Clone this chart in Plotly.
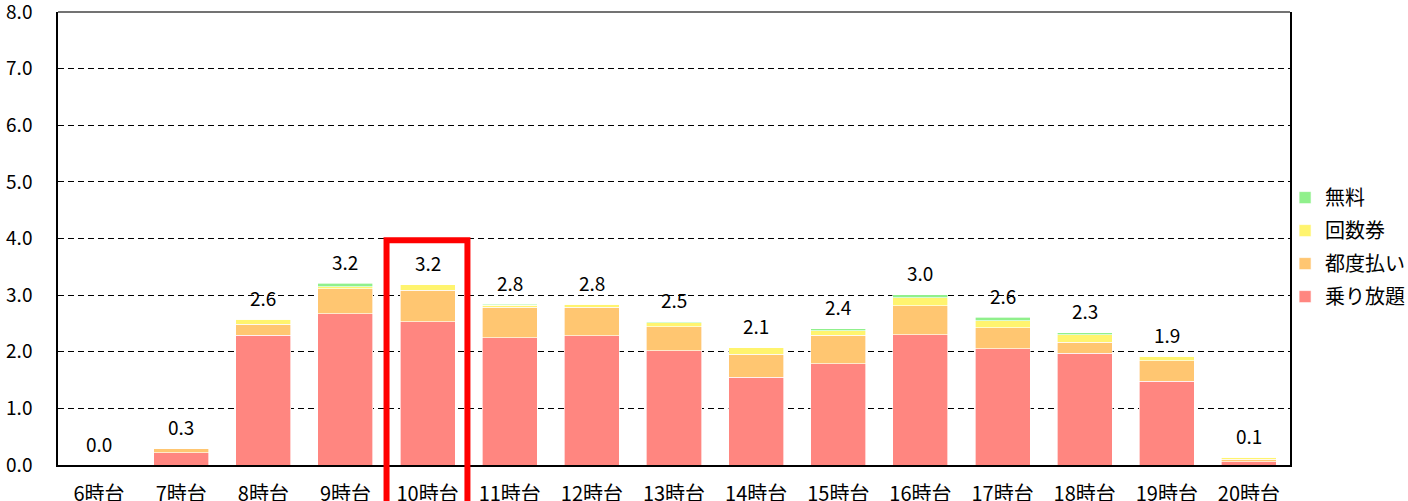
import plotly.graph_objects as go

categories = ["6時台", "7時台", "8時台", "9時台", "10時台", "11時台", "12時台", "13時台",
              "14時台", "15時台", "16時台", "17時台", "18時台", "19時台", "20時台"]
norihoudai = [0.00, 0.22, 2.29, 2.67, 2.53, 2.25, 2.28, 2.02, 1.55, 1.79, 2.30, 2.05, 1.97, 1.48, 0.06]
tsudobarai = [0.00, 0.08, 0.20, 0.44, 0.56, 0.54, 0.51, 0.42, 0.41, 0.50, 0.51, 0.37, 0.20, 0.36, 0.04]
kaisuuken  = [0.00, 0.00, 0.08, 0.04, 0.09, 0.03, 0.05, 0.07, 0.11, 0.08, 0.14, 0.13, 0.13, 0.08, 0.04]
muryou     = [0.00, 0.00, 0.00, 0.06, 0.00, 0.02, 0.00, 0.02, 0.00, 0.04, 0.06, 0.06, 0.04, 0.00, 0.00]
y_ticks = [0, 1, 2, 3, 4, 5, 6, 7, 8]
highlight = "10時台"

FONT = "Noto Sans CJK JP"
series = [
    ("乗り放題", norihoudai, "#FF8680", 4),
    ("都度払い", tsudobarai, "#FFC671", 3),
    ("回数券", kaisuuken, "#FFF46E", 2),
    ("無料", muryou, "#90F08C", 1),
]

fig = go.Figure()
for name, vals, col, rank in series:
    fig.add_trace(go.Bar(
        x=categories, y=vals, name=name,
        marker=dict(color=col, line=dict(color="rgba(255,255,255,0.8)", width=0.8)),
        legendgroup=name, legendrank=rank,
    ))

totals = [round(a + b + c + d, 3) for a, b, c, d in zip(norihoudai, tsudobarai, kaisuuken, muryou)]
for cat, t in zip(categories, totals):
    fig.add_annotation(x=cat, y=t, text=f"{t:.1f}", showarrow=False, yshift=22,
                       yanchor="middle", font=dict(family=FONT, size=19, color="#000"))

n = len(categories)
idx = categories.index(highlight)
fig.add_shape(type="rect", xref="x domain", yref="paper",
              x0=(idx + 0.5 - 0.50) / n, x1=(idx + 0.5 + 0.485) / n,
              y0=-0.2, y1=3.97 / 8,
              line=dict(color="#FF0000", width=6), fillcolor="rgba(0,0,0,0)", layer="above")
fig.add_shape(type="line", xref="paper", yref="paper", x0=0, x1=1, y0=1, y1=1,
              line=dict(color="#444", width=1.5), layer="below")

fig.update_layout(
    width=1408, height=501,
    margin=dict(l=58, r=118, t=12, b=36, autoexpand=False),
    paper_bgcolor="white", plot_bgcolor="white",
    barmode="stack", bargap=0.33,
    font=dict(family=FONT, size=19, color="#000"),
    showlegend=True,
    legend=dict(x=0.996, xanchor="left", y=0.481, yanchor="middle",
                traceorder="grouped", tracegroupgap=4,
                font=dict(family=FONT, size=20), itemwidth=30,
                bgcolor="rgba(0,0,0,0)"),
    xaxis=dict(showline=True, linecolor="#000", linewidth=2, ticks="",
               tickfont=dict(family=FONT, size=20), showgrid=False,
               automargin=False, ticklabelstandoff=10),
    yaxis=dict(range=[0, 8.0001], tickvals=y_ticks, tickformat=".1f",
               showline=True, linecolor="#000", linewidth=1.5, mirror=True,
               showgrid=True, gridcolor="#000", gridwidth=1, griddash="6px,4px",
               zeroline=False, ticks="", tickfont=dict(family=FONT, size=19),
               automargin=False, ticklabelstandoff=20, ticklabeloverflow="allow"),
)

fig.write_html("out.html", config={"displayModeBar": False},
               post_script="document.body.style.margin='0';")
